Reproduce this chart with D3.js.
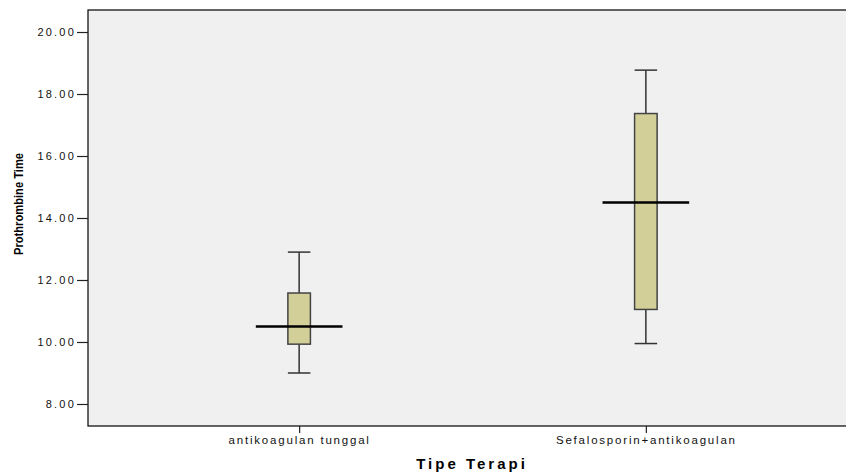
<!DOCTYPE html>
<html>
<head>
<meta charset="utf-8">
<script src="https://cdn.jsdelivr.net/npm/d3@7"></script>
<style>
html,body{margin:0;padding:0;background:#fff;overflow:hidden;}
svg{display:block;}
</style>
</head>
<body>
<svg id="chart" width="846" height="474"></svg>
<script>
const categories = ["antikoagulan tunggal", "Sefalosporin+antikoagulan"];
const whiskerLow = [9.0, 9.95];
const q1 = [9.93, 11.05];
const median = [10.5, 14.5];
const q3 = [11.58, 17.37];
const whiskerHigh = [12.9, 18.77];
const yTicks = [8, 10, 12, 14, 16, 18, 20];
const yTitle = "Prothrombine Time";
const xTitle = "Tipe Terapi";

const svg = d3.select("#chart");
const plotLeft = 88, plotRight = 857, plotTop = 10, plotBottom = 426;

const x = d3.scalePoint().domain(categories).range([plotLeft, plotRight]).padding(0.609);
const y = d3.scaleLinear().domain([7.29, 20.71]).range([plotBottom, plotTop]);

// plot background
svg.append("rect").attr("x", plotLeft).attr("y", plotTop)
  .attr("width", plotRight - plotLeft).attr("height", plotBottom - plotTop)
  .attr("fill", "#f0f0f0").attr("stroke", "#000").attr("stroke-width", 1.2);

// y axis
const yAxis = svg.append("g").attr("transform", `translate(${plotLeft},0)`)
  .call(d3.axisLeft(y).tickValues(yTicks).tickFormat(d3.format(".2f")).tickSize(11).tickPadding(1));
yAxis.select(".domain").remove();
yAxis.selectAll(".tick line").attr("stroke", "#222").attr("stroke-width", 1.2);
yAxis.selectAll(".tick text")
  .attr("font-family", "'Liberation Sans', Arial, sans-serif")
  .attr("font-size", 11).attr("fill", "#111")
  .attr("letter-spacing", "2.2px");

// x axis
const xAxis = svg.append("g").attr("transform", `translate(0,${plotBottom})`)
  .call(d3.axisBottom(x).tickSize(7).tickPadding(3));
xAxis.select(".domain").remove();
xAxis.selectAll(".tick line").attr("stroke", "#222").attr("stroke-width", 1.2);
xAxis.selectAll(".tick text")
  .attr("font-family", "'Liberation Sans', Arial, sans-serif")
  .attr("font-size", 11.5).attr("fill", "#111")
  .attr("letter-spacing", "1.8px");

// boxes
const step = x.step();
const bw = step * 0.065;
const mw = step * 0.25;
const data = categories.map((c, i) => ({c, lo: whiskerLow[i], q1: q1[i], med: median[i], q3: q3[i], hi: whiskerHigh[i]}));

const g = svg.append("g");
data.forEach(d => {
  const cx = x(d.c);
  g.append("line").attr("x1", cx).attr("x2", cx).attr("y1", y(d.hi)).attr("y2", y(d.q3))
    .attr("stroke", "#333").attr("stroke-width", 1.5);
  g.append("line").attr("x1", cx).attr("x2", cx).attr("y1", y(d.q1)).attr("y2", y(d.lo))
    .attr("stroke", "#333").attr("stroke-width", 1.5);
  g.append("line").attr("x1", cx - bw / 2).attr("x2", cx + bw / 2).attr("y1", y(d.hi)).attr("y2", y(d.hi))
    .attr("stroke", "#333").attr("stroke-width", 1.5);
  g.append("line").attr("x1", cx - bw / 2).attr("x2", cx + bw / 2).attr("y1", y(d.lo)).attr("y2", y(d.lo))
    .attr("stroke", "#333").attr("stroke-width", 1.5);
  g.append("rect").attr("x", cx - bw / 2).attr("y", y(d.q3))
    .attr("width", bw).attr("height", y(d.q1) - y(d.q3))
    .attr("fill", "#d3cf98").attr("stroke", "#444").attr("stroke-width", 1.5);
  g.append("line").attr("x1", cx - mw / 2).attr("x2", cx + mw / 2).attr("y1", y(d.med)).attr("y2", y(d.med))
    .attr("stroke", "#000").attr("stroke-width", 2.5);
});

// titles
svg.append("text")
  .attr("transform", `translate(22.5,204) rotate(-90)`)
  .attr("text-anchor", "middle")
  .attr("font-family", "'Liberation Sans Narrow', 'Liberation Sans', Arial, sans-serif")
  .attr("font-weight", "bold").attr("font-size", 13.5).attr("fill", "#000")
  .attr("textLength", 102).attr("lengthAdjust", "spacingAndGlyphs")
  .text(yTitle);

svg.append("text")
  .attr("x", 472).attr("y", 469)
  .attr("text-anchor", "middle")
  .attr("font-family", "'Liberation Sans', Arial, sans-serif")
  .attr("font-weight", "bold").attr("font-size", 15).attr("fill", "#000")
  .attr("letter-spacing", "3px")
  .text(xTitle);
</script>
</body>
</html>
